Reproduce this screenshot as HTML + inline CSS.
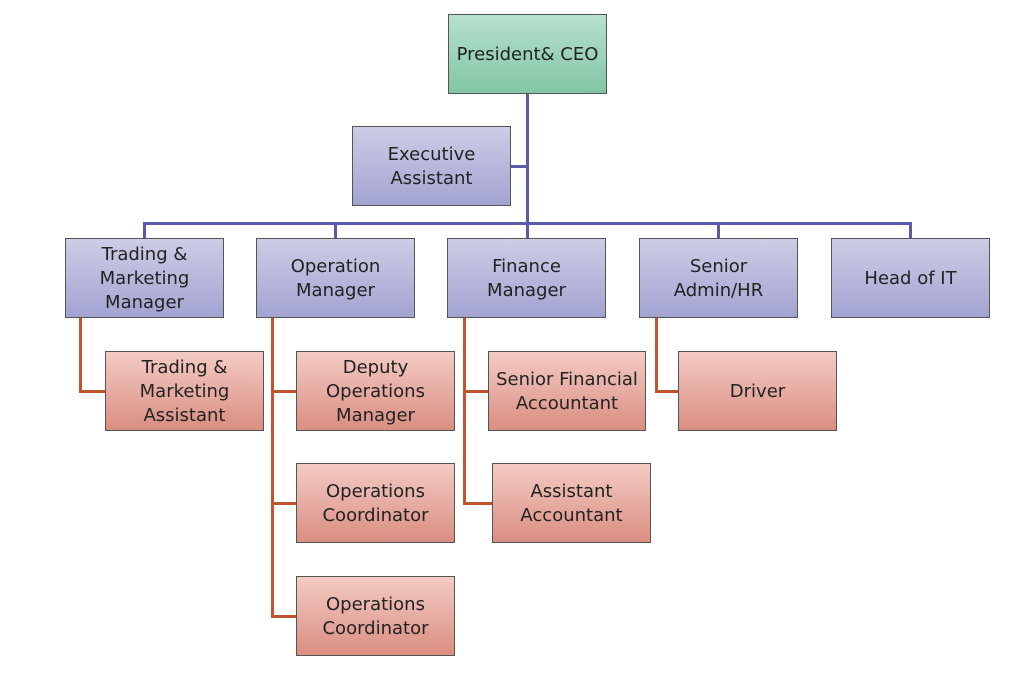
<!DOCTYPE html>
<html><head><style>
body{margin:0;width:1030px;height:683px;background:#fff;position:relative;font-family:"DejaVu Sans","Liberation Sans",sans-serif;overflow:hidden}
.b{position:absolute;width:156px;height:77px;border:1px solid #555;display:flex;align-items:center;justify-content:center;text-align:center;font-size:18px;line-height:24px;color:#222;box-sizing:border-box;padding-top:2px}
.p{background:linear-gradient(#cdcde6,#a3a3d2)}
.r{background:linear-gradient(#f3cbc4,#da8e81)}
.g{background:linear-gradient(#b7e0ce,#82c6a5)}
.l{position:absolute}
.bl{background:#5b5aa8}.rl{background:#c2532f}
</style></head><body>
<div class="l bl" style="left:526px;top:93px;width:3px;height:146px"></div>
<div class="l bl" style="left:510px;top:165px;width:17px;height:3px"></div>
<div class="l bl" style="left:143px;top:222px;width:769px;height:3px"></div>
<div class="l bl" style="left:143px;top:222px;width:3px;height:17px"></div>
<div class="l bl" style="left:334px;top:222px;width:3px;height:17px"></div>
<div class="l bl" style="left:717px;top:222px;width:3px;height:17px"></div>
<div class="l bl" style="left:909px;top:222px;width:3px;height:17px"></div>

<div class="l rl" style="left:79px;top:317px;width:3px;height:76px"></div>
<div class="l rl" style="left:79px;top:390px;width:27px;height:3px"></div>
<div class="l rl" style="left:271px;top:317px;width:3px;height:301px"></div>
<div class="l rl" style="left:271px;top:390px;width:26px;height:3px"></div>
<div class="l rl" style="left:271px;top:502px;width:26px;height:3px"></div>
<div class="l rl" style="left:271px;top:615px;width:26px;height:3px"></div>
<div class="l rl" style="left:463px;top:317px;width:3px;height:188px"></div>
<div class="l rl" style="left:463px;top:390px;width:26px;height:3px"></div>
<div class="l rl" style="left:463px;top:502px;width:30px;height:3px"></div>
<div class="l rl" style="left:655px;top:317px;width:3px;height:76px"></div>
<div class="l rl" style="left:655px;top:390px;width:24px;height:3px"></div>

<div class="b g" style="left:448px;top:14px;width:159px;height:80px">President&amp; CEO</div>
<div class="b p" style="left:352px;top:126px;width:159px;height:80px">Executive<br>Assistant</div>
<div class="b p" style="left:65px;top:238px;width:159px;height:80px">Trading &amp;<br>Marketing<br>Manager</div>
<div class="b p" style="left:256px;top:238px;width:159px;height:80px">Operation<br>Manager</div>
<div class="b p" style="left:447px;top:238px;width:159px;height:80px">Finance<br>Manager</div>
<div class="b p" style="left:639px;top:238px;width:159px;height:80px">Senior<br>Admin/HR</div>
<div class="b p" style="left:831px;top:238px;width:159px;height:80px">Head of IT</div>

<div class="b r" style="left:105px;top:351px;width:159px;height:80px">Trading &amp;<br>Marketing<br>Assistant</div>
<div class="b r" style="left:296px;top:351px;width:159px;height:80px">Deputy<br>Operations<br>Manager</div>
<div class="b r" style="left:296px;top:463px;width:159px;height:80px">Operations<br>Coordinator</div>
<div class="b r" style="left:296px;top:576px;width:159px;height:80px">Operations<br>Coordinator</div>
<div class="b r" style="left:488px;top:351px;width:158px;height:80px">Senior Financial<br>Accountant</div>
<div class="b r" style="left:492px;top:463px;width:159px;height:80px">Assistant<br>Accountant</div>
<div class="b r" style="left:678px;top:351px;width:159px;height:80px">Driver</div>
</body></html>
